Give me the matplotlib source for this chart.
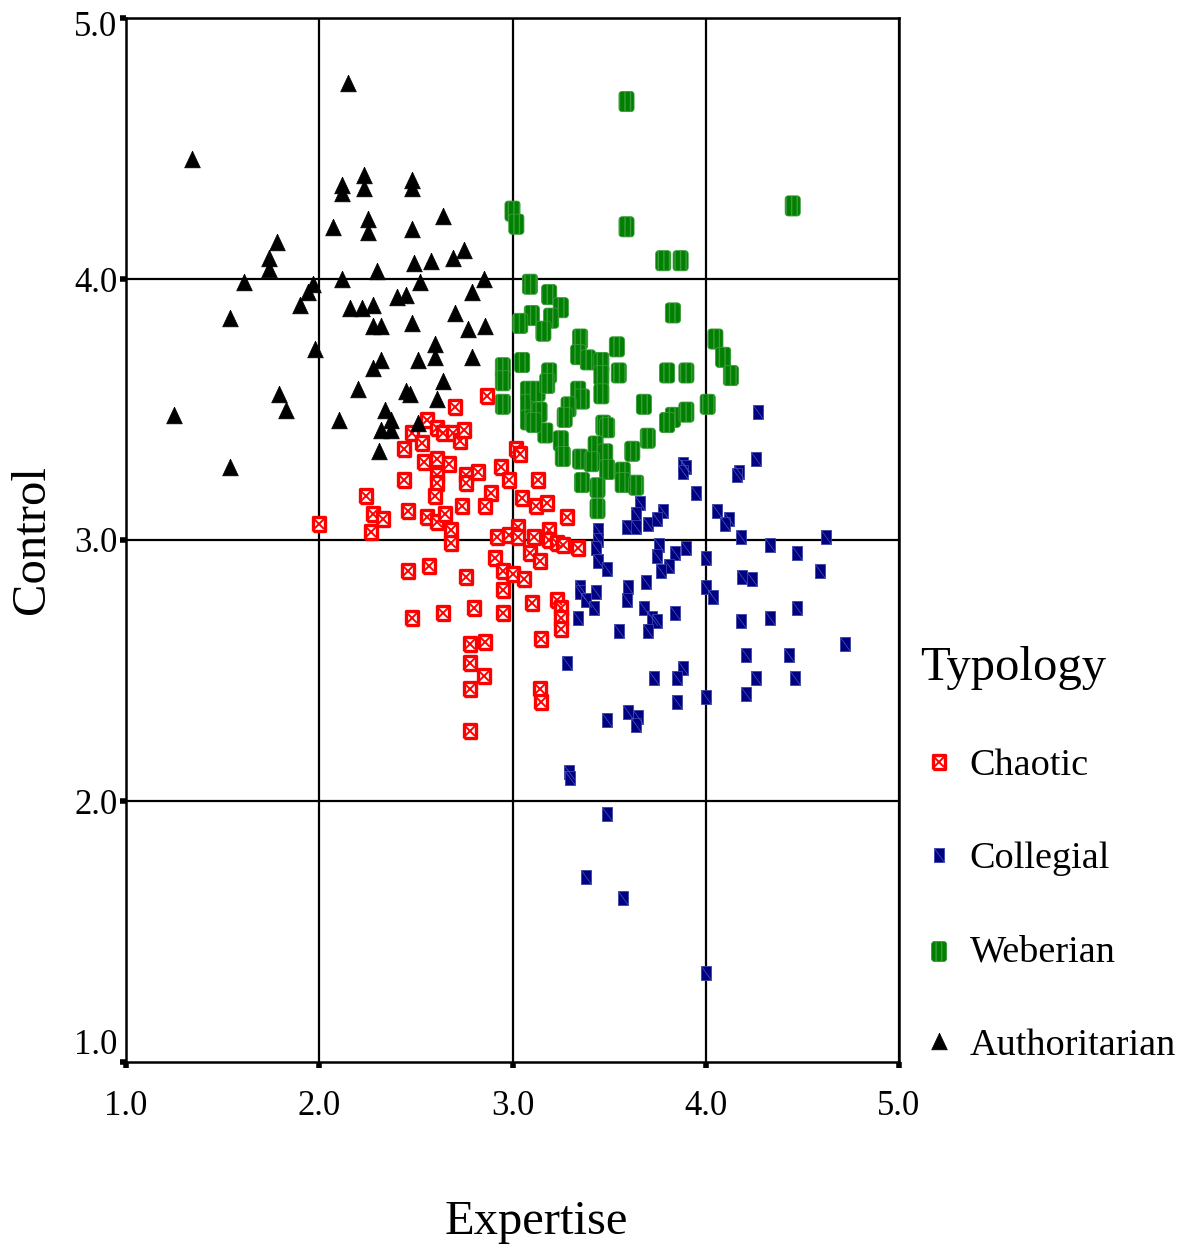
import numpy as np
import matplotlib
matplotlib.use("Agg")
import matplotlib.pyplot as plt
import matplotlib.transforms as mtransforms
from matplotlib.path import Path
from matplotlib.legend_handler import HandlerTuple

plt.rcParams['font.family'] = ['Liberation Serif', 'DejaVu Serif']

# ---------------- data ----------------
categories = ["Chaotic", "Collegial", "Weberian", "Authoritarian"]

auth_x = [2.15,1.34,2.23,2.12,2.12,2.23,2.48,2.48,2.64,2.07,2.25,2.25,2.48,1.78,1.74,1.74,
          1.61,1.97,1.94,1.90,2.12,2.30,2.49,2.58,2.69,2.75,2.52,2.85,2.79,2.40,2.45,2.16,
          2.22,2.28,1.54,2.28,2.32,2.48,2.70,2.77,2.86,1.98,2.60,2.60,2.51,2.79,2.28,2.32,
          2.64,2.20,1.79,1.83,2.45,2.47,2.61,1.25,2.10,2.34,2.37,2.32,2.37,2.51,2.31,1.54]
auth_y = [4.75,4.46,4.40,4.36,4.33,4.35,4.38,4.35,4.24,4.20,4.23,4.18,4.19,4.14,4.08,4.04,
          3.99,3.98,3.95,3.90,4.00,4.03,4.06,4.07,4.08,4.11,3.99,4.00,3.95,3.93,3.94,3.89,
          3.89,3.90,3.85,3.82,3.82,3.83,3.87,3.81,3.82,3.73,3.75,3.70,3.69,3.70,3.66,3.69,
          3.61,3.58,3.56,3.50,3.57,3.56,3.54,3.48,3.46,3.50,3.46,3.42,3.42,3.45,3.34,3.28]

chaotic_x = [2.87,2.70,2.56,2.61,2.64,2.69,2.73,2.75,2.48,2.44,2.53,3.02,3.04,2.54,2.61,2.67,
             2.44,2.61,2.61,2.76,2.76,2.82,2.94,2.98,3.13,2.60,2.89,2.24,3.05,3.12,3.18,2.46,
             2.56,2.61,2.65,2.74,2.86,2.28,2.33,2.27,2.00,2.68,2.68,3.28,3.03,3.19,2.92,2.98,
             3.03,3.11,3.19,3.23,3.26,3.34,3.09,2.91,3.14,2.57,2.46,2.76,2.95,3.00,3.06,2.95,
             3.10,3.23,3.25,3.25,3.25,2.80,2.95,2.64,2.48,3.15,2.86,2.78,2.78,2.85,2.78,3.14,
             3.15,2.78]
chaotic_y = [3.55,3.51,3.46,3.43,3.41,3.41,3.38,3.42,3.41,3.35,3.37,3.35,3.33,3.30,3.31,3.29,
             3.23,3.25,3.22,3.25,3.22,3.26,3.28,3.23,3.23,3.17,3.18,3.17,3.16,3.13,3.14,3.11,
             3.09,3.07,3.10,3.13,3.13,3.10,3.08,3.03,3.06,3.04,2.99,3.09,3.05,3.04,3.01,3.02,
             3.01,3.01,3.00,2.99,2.98,2.97,2.95,2.93,2.92,2.90,2.88,2.86,2.88,2.87,2.85,2.81,
             2.76,2.77,2.74,2.70,2.66,2.74,2.72,2.72,2.70,2.62,2.61,2.60,2.53,2.48,2.43,2.43,
             2.38,2.27]

collegial_x = [4.27,4.26,3.88,3.90,3.88,4.17,4.16,3.95,3.66,3.78,3.64,4.06,4.12,4.10,3.59,3.64,
               3.70,3.75,3.44,3.44,3.43,3.76,3.75,3.90,3.84,4.18,4.33,4.47,4.62,4.00,3.44,3.49,
               3.81,3.77,3.69,3.60,3.35,3.35,3.43,3.38,3.42,3.59,4.19,4.24,4.59,4.00,4.04,3.68,
               3.72,3.75,3.84,3.34,4.47,4.18,4.33,3.55,3.70,4.72,4.21,4.43,3.28,3.88,3.85,3.73,
               4.26,4.46,4.21,4.00,3.85,3.60,3.65,3.64,3.49,3.29,3.30,3.49,3.38,3.57,4.00]
collegial_y = [3.49,3.31,3.29,3.28,3.26,3.26,3.25,3.18,3.14,3.11,3.10,3.11,3.08,3.06,3.05,3.05,
               3.06,3.08,3.04,3.00,2.97,2.98,2.94,2.97,2.95,3.01,2.98,2.95,3.01,2.93,2.92,2.89,
               2.90,2.88,2.84,2.82,2.82,2.80,2.80,2.77,2.74,2.77,2.86,2.85,2.88,2.82,2.78,2.74,
               2.70,2.69,2.72,2.70,2.74,2.69,2.70,2.65,2.65,2.60,2.56,2.56,2.53,2.51,2.47,2.47,
               2.47,2.47,2.41,2.40,2.38,2.34,2.32,2.29,2.31,2.11,2.09,1.95,1.71,1.63,1.34]

weberian_x = [3.59,4.45,3.00,3.02,3.59,3.78,3.87,3.09,3.19,3.25,3.20,3.10,3.04,3.16,3.83,3.35,
              3.34,3.39,3.46,3.54,3.55,3.46,3.46,3.05,2.95,2.95,2.95,3.19,3.08,3.08,3.13,3.18,
              3.34,3.36,3.29,3.27,3.08,3.14,3.17,3.25,3.26,3.11,3.47,3.49,3.68,3.80,3.90,4.05,
              4.09,4.13,4.01,3.83,3.90,3.80,3.70,3.62,3.43,3.48,3.35,3.41,3.49,3.57,3.36,3.44,
              3.44,3.57,3.64]
weberian_y = [4.68,4.28,4.26,4.21,4.20,4.07,4.07,3.98,3.94,3.89,3.85,3.86,3.83,3.80,3.87,3.77,
              3.71,3.69,3.68,3.74,3.64,3.63,3.56,3.68,3.66,3.61,3.52,3.64,3.57,3.52,3.57,3.60,
              3.57,3.54,3.51,3.47,3.46,3.49,3.41,3.38,3.32,3.45,3.44,3.43,3.52,3.64,3.64,3.77,
              3.70,3.63,3.52,3.47,3.49,3.45,3.39,3.34,3.36,3.33,3.31,3.30,3.27,3.26,3.22,3.20,
              3.12,3.22,3.21]

ticks = [1.0, 2.0, 3.0, 4.0, 5.0]
tick_labels = ["1.0", "2.0", "3.0", "4.0", "5.0"]

# ---------------- marker shapes ----------------
rect_red = [(-0.4, -0.5), (0.4, -0.5), (0.4, 0.5), (-0.4, 0.5), (-0.4, -0.5)]
rect_blue = [(-0.36, -0.5), (0.36, -0.5), (0.36, 0.5), (-0.36, 0.5), (-0.36, -0.5)]
diag_blue = Path([(-0.36, 0.5), (0.36, -0.5)], [Path.MOVETO, Path.LINETO])
tri = [(0, 0.5), (-0.47, -0.5), (0.47, -0.5), (0, 0.5)]

def rounded_rect(w=0.375, h=0.5, r=0.15, n=6):
    pts = []
    corners = [(w - r, h - r, 0), (-w + r, h - r, 90), (-w + r, -h + r, 180), (w - r, -h + r, 270)]
    for cx, cy, a0 in corners:
        for a in np.linspace(np.radians(a0), np.radians(a0 + 90), n):
            pts.append((cx + r * np.cos(a), cy + r * np.sin(a)))
    pts.append(pts[0])
    codes = [Path.MOVETO] + [Path.LINETO] * (len(pts) - 2) + [Path.CLOSEPOLY]
    return Path(pts, codes)

green_marker = rounded_rect()

# ---------------- figure ----------------
fig = plt.figure(figsize=(11.89, 12.5), dpi=100)
ax = fig.add_axes([126 / 1189, 188 / 1250, (899 - 126) / 1189, (1062 - 18) / 1250])
ax.set_xlim(1.0, 5.0)
ax.set_ylim(1.0, 5.0)

for v in ticks[1:]:
    ax.axvline(v, color='black', lw=1.6, zorder=1)
    ax.axhline(v, color='black', lw=1.6, zorder=1)

# Chaotic
h_ch1, = ax.plot(chaotic_x, chaotic_y, linestyle='none', marker=rect_red, ms=10,
                 mfc='white', mec='#ff0000', mew=2.4, zorder=3)
h_ch2, = ax.plot(chaotic_x, chaotic_y, linestyle='none', marker='x', ms=6.5,
                 mec='#ff0000', mew=1.4, zorder=3)
# Collegial
h_co1, = ax.plot(collegial_x, collegial_y, linestyle='none', marker=rect_blue, ms=10.5,
                 mfc='#000080', mec='#3a44a8', mew=0.6, zorder=3)
h_co2, = ax.plot(collegial_x, collegial_y, linestyle='none', marker=diag_blue, ms=10.5,
                 mec='#4858c0', mew=0.5, zorder=3)
# Weberian
h_we = ax.scatter(weberian_x, weberian_y, marker=green_marker, s=14.5 ** 2,
                  facecolor='#008000', edgecolor='#3c9c3c', linewidths=0.6,
                  hatch='|||', zorder=3)
# Authoritarian
h_au, = ax.plot(auth_x, auth_y, linestyle='none', marker=tri, ms=12,
                mfc='black', mec='black', mew=0.5, zorder=3)

for s in ax.spines.values():
    s.set_linewidth(1.8)
    s.set_color('black')

ax.set_xticks(ticks)
ax.set_yticks(ticks)
ax.set_xticklabels(tick_labels)
ax.set_yticklabels(tick_labels)
ax.tick_params(axis='both', direction='out', length=4, width=4, labelsize=25, color='black')
ax.tick_params(axis='x', pad=16)
ax.tick_params(axis='y', pad=2)
ylabs = ax.get_yticklabels()
ylabs[0].set_va('bottom')
ylabs[-1].set_va('top')
ylabs[-1].set_transform(ylabs[-1].get_transform() +
                        mtransforms.ScaledTranslation(0, 7 / 100, fig.dpi_scale_trans))

fig.text(536 / 1189, 1 - 1222 / 1250, "Expertise", fontsize=35, ha='center', va='center')
fig.text(32 / 1189, 1 - 540 / 1250, "Control", fontsize=35, ha='center', va='center',
         rotation=90)

leg = ax.legend([(h_ch1, h_ch2), (h_co1, h_co2), h_we, h_au], categories,
                handler_map={tuple: HandlerTuple(ndivide=1, pad=0)},
                loc='upper left', bbox_to_anchor=(920 / 1189, 1 - 646 / 1250),
                bbox_transform=fig.transFigure, frameon=False, title="Typology",
                fontsize=27.5, title_fontsize=35, alignment='left', borderpad=0,
                borderaxespad=0, handlelength=1.0, handletextpad=0.3,
                labelspacing=1.53, scatterpoints=1, numpoints=1)

fig.savefig("out.png", dpi=100)
